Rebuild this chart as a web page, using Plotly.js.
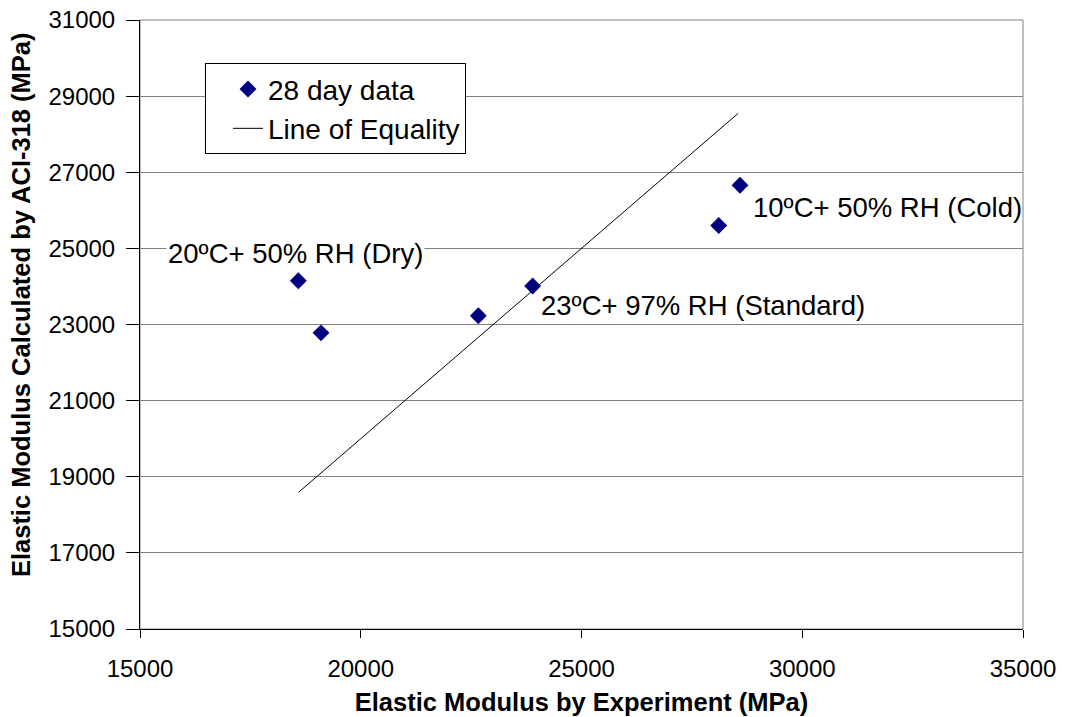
<!DOCTYPE html>
<html>
<head>
<meta charset="utf-8">
<script src="https://cdn.plot.ly/plotly-3.0.1.min.js"></script>
<style>html,body{margin:0;padding:0;background:#fff;}#chart{width:1066px;height:717px;}</style>
</head>
<body>
<div id="chart"></div>
<script>
// Elastic modulus by experiment (MPa)
const expX = [18586, 19100, 22663, 23894, 28108, 28590];
// Elastic modulus calculated by ACI-318 (MPa)
const aciY = [24150, 22780, 23230, 24010, 25600, 26660];
// Line of equality endpoints
const lineX = [18590, 28550];
const lineY = [18590, 28550];
// Condition labels and the point each sits beside
const labelText = ["20ºC+ 50% RH (Dry)", "23ºC+ 97% RH (Standard)", "10ºC+ 50% RH (Cold)"];
const labelPoint = [0, 3, 5];
const xTicks = [15000, 20000, 25000, 30000, 35000];
const yTicks = [15000, 17000, 19000, 21000, 23000, 25000, 27000, 29000, 31000];
const xTitle = 'Elastic Modulus by Experiment (MPa)';
const yTitle = 'Elastic Modulus Calculated by ACI-318 (MPa)';

const FONT = "Arial, 'Liberation Sans', sans-serif";

const traces = [
  {
    x: expX, y: aciY, type: 'scatter', mode: 'markers', name: '28 day data',
    marker: {symbol: 'diamond', size: 13, color: '#000080'}
  },
  {
    x: lineX, y: lineY, type: 'scatter', mode: 'lines', name: 'Line of Equality',
    line: {color: '#000000', width: 1}
  }
];

const labelStyle = [
  {xanchor: 'center', xshift: -3, yshift: 27, bg: 'white'},
  {xanchor: 'left', xshift: 6, yshift: -19, bg: 'rgba(0,0,0,0)'},
  {xanchor: 'left', xshift: 11, yshift: -22, bg: 'rgba(0,0,0,0)'}
];

const annotations = labelText.map((t, i) => ({
  x: expX[labelPoint[i]], y: aciY[labelPoint[i]], xref: 'x', yref: 'y',
  text: t, showarrow: false, xanchor: labelStyle[i].xanchor, yanchor: 'middle',
  xshift: labelStyle[i].xshift, yshift: labelStyle[i].yshift,
  bgcolor: labelStyle[i].bg, borderpad: 1,
  font: {family: FONT, size: 27.5, color: '#000'}
}));

// Y axis title (placed as a rotated annotation to match the reference position)
annotations.push({
  xref: 'paper', yref: 'paper', x: -0.134, y: 0.533, xanchor: 'center', yanchor: 'middle',
  text: yTitle, textangle: -90, showarrow: false,
  font: {family: FONT, size: 25.5, color: '#000', weight: 'bold'}
});

const layout = {
  width: 1066, height: 717,
  margin: {l: 140, r: 43, t: 20, b: 88, pad: 0},
  paper_bgcolor: '#ffffff', plot_bgcolor: '#ffffff',
  font: {family: FONT, color: '#000'},
  showlegend: true,
  legend: {
    x: 0.0736, y: 0.929, xanchor: 'left', yanchor: 'top',
    bgcolor: '#ffffff', bordercolor: '#000000', borderwidth: 1,
    font: {family: FONT, size: 28, color: '#000'},
    itemwidth: 30, indentation: 22, tracegroupgap: 0
  },
  xaxis: {
    range: [15000, 35000], tickvals: xTicks, ticktext: xTicks.map(String),
    ticks: 'outside', ticklen: 8, tickcolor: '#000', tickwidth: 1,
    showline: true, linecolor: '#000', linewidth: 1, showgrid: false, zeroline: false,
    tickfont: {family: FONT, size: 24, color: '#000'},
    ticklabelstandoff: 10,
    title: {text: xTitle, font: {family: FONT, size: 25.5, color: '#000', weight: 'bold'}, standoff: 12}
  },
  yaxis: {
    range: [15000, 31000], tickvals: yTicks, ticktext: yTicks.map(String),
    ticks: 'outside', ticklen: 13, tickcolor: '#000', tickwidth: 1,
    showline: true, linecolor: '#000', linewidth: 1,
    showgrid: true, gridcolor: '#808080', gridwidth: 1, zeroline: false,
    tickfont: {family: FONT, size: 24, color: '#000'},
    ticklabelstandoff: 6
  },
  shapes: [
    {type: 'rect', xref: 'paper', yref: 'paper', x0: 0, x1: 1, y0: 0, y1: 1,
     line: {color: '#808080', width: 1}, layer: 'below'}
  ],
  annotations: annotations
};

Plotly.newPlot('chart', traces, layout, {displayModeBar: false, staticPlot: true});
</script>
</body>
</html>
